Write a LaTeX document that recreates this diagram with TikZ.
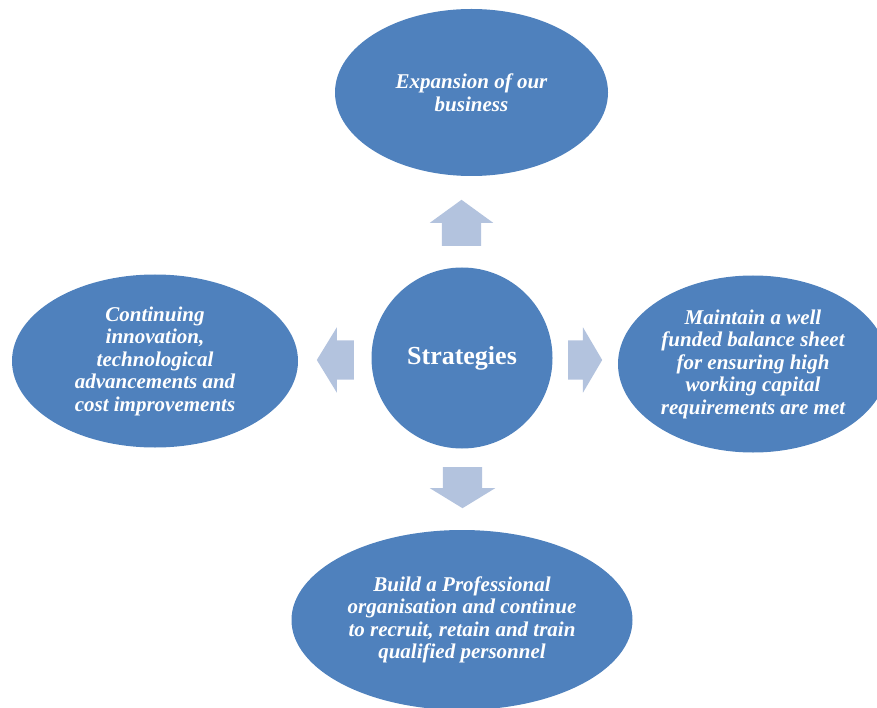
\documentclass[tikz,border=0pt]{standalone}
\usepackage{fontspec}
\setmainfont{Liberation Serif}
\usepackage{tikz}
\usetikzlibrary{shapes.geometric}
\usetikzlibrary{shapes.arrows}
\definecolor{officeblue}{HTML}{4F81BD}
\definecolor{arrowblue}{HTML}{B3C3DE}

\begin{document}
\begin{tikzpicture}[
		x=1pt, y=1pt,
		goal/.style={ellipse, fill=officeblue, text=white, align=center, inner sep=0pt,
			font=\fontsize{21}{22.5}\selectfont\bfseries\itshape},
		push/.style={single arrow, fill=arrowblue, inner sep=0pt, anchor=tail,
			text height=19.5pt, text depth=19.5pt, text width=0pt,
			single arrow head extend=13pt, single arrow tip angle=117}
	]
	\useasboundingbox (0,0) rectangle (877,-708);
	\clip (0,0) rectangle (877,-708);
	
	\node[circle, fill=officeblue, text=white, minimum size=181pt,
		font=\fontsize{26}{30}\selectfont\bfseries]
		(strat) at (462,-358) {Strategies};
	
	\node[goal, minimum width=273pt, minimum height=167pt]
		(expand) at (471.5,-92.5) {Expansion of our\\business};
	
	\node[goal, minimum width=286pt, minimum height=173pt]
		(innov) at (155,-361) {Continuing\\innovation,\\technological\\advancements and\\cost improvements};
	
	\node[goal, minimum width=270pt, minimum height=177pt]
		(funds) at (753,-364) {Maintain a well\\funded balance sheet\\for ensuring high\\working capital\\requirements are met};
	
	\node[goal, minimum width=341pt, minimum height=180pt]
		(people) at (462,-620) {Build a Professional\\organisation and continue\\to recruit, retain and train\\qualified personnel};
	
	% block arrows round the centre, placed by their tails
	\node[push, minimum height=46pt, single arrow head extend=12pt,
		single arrow tip angle=108, rotate=90] (pushup) at (461.5,-246) {};
	\node[push, minimum height=34pt, single arrow tip angle=119]
		(pushright) at (568,-360) {};
	\node[push, minimum height=37pt, rotate=180]
		(pushleft) at (354,-360) {};
	\node[push, minimum height=41pt, rotate=-90]
		(pushdown) at (462.5,-467) {};
\end{tikzpicture}
\end{document}
